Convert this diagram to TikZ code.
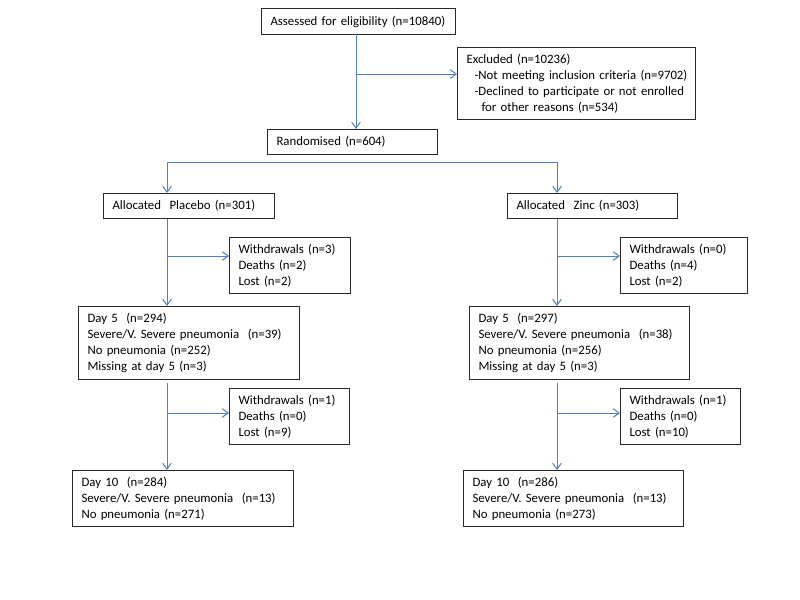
\documentclass[tikz,border=0pt]{standalone}
\usepackage{fontspec}
\setmainfont{Carlito}
\usetikzlibrary{arrows.meta}
\definecolor{conn}{RGB}{79,129,189}
\definecolor{boxline}{RGB}{40,40,40}
\begin{document}
\begin{tikzpicture}[x=0.75pt,y=-0.75pt,
  box/.style={draw=boxline,line width=0.75pt,anchor=north west,align=left,inner xsep=6.75pt,inner ysep=0pt,font=\fontsize{9.6pt}{12pt}\selectfont},
  flow/.style={draw=conn,line width=0.75pt,-{Straight Barb[length=4.5pt,width=6.5pt]}},
  plain/.style={draw=conn,line width=0.75pt}]
\useasboundingbox[fill=white] (0,0) rectangle (800,600);
\node[box,text width=132pt,minimum height=19.5pt] (assess) at (261,8) {\mbox{Assessed for eligibility (n=10840)}};
\node[box,text width=165pt,minimum height=54pt] (excl) at (457,47) {\mbox{Excluded (n=10236)}\\
\mbox{\hspace*{6pt}-Not meeting inclusion criteria (n=9702)}\\
\mbox{\hspace*{6pt}-Declined to participate or not enrolled}\\
\mbox{\hspace*{11.25pt}for other reasons (n=534)}};
\node[box,text width=114pt,minimum height=18.75pt] (rand) at (267,129) {Randomised (n=604)};
\node[box,text width=114.75pt,minimum height=18.75pt] (allocP) at (103,193) {Allocated\ \ Placebo (n=301)};
\node[box,text width=77.25pt,minimum height=42pt] (wdP1) at (229,237) {Withdrawals (n=3)\\Deaths (n=2)\\Lost (n=2)};
\node[box,text width=152.25pt,minimum height=54.75pt] (d5P) at (78,306) {Day 5\ \ (n=294)\\Severe/V. Severe pneumonia\ \ (n=39)\\No pneumonia (n=252)\\Missing at day 5 (n=3)};
\node[box,text width=76.5pt,minimum height=42pt] (wdP2) at (229,388) {Withdrawals (n=1)\\Deaths (n=0)\\Lost (n=9)};
\node[box,text width=152.25pt,minimum height=42pt] (d10P) at (72,470) {Day 10\ \ (n=284)\\Severe/V. Severe pneumonia\ \ (n=13)\\No pneumonia (n=271)};
\node[box,text width=114pt,minimum height=18.75pt] (allocZ) at (507,193) {Allocated\ \ Zinc (n=303)};
\node[box,text width=81.75pt,minimum height=42pt] (wdZ1) at (620,237) {Withdrawals (n=0)\\Deaths (n=4)\\Lost (n=2)};
\node[box,text width=151.5pt,minimum height=54.75pt] (d5Z) at (469,306) {Day 5\ \ (n=297)\\Severe/V. Severe pneumonia\ \ (n=38)\\No pneumonia (n=256)\\Missing at day 5 (n=3)};
\node[box,text width=76.5pt,minimum height=42pt] (wdZ2) at (620,388) {Withdrawals (n=1)\\Deaths (n=0)\\Lost (n=10)};
\node[box,text width=151.5pt,minimum height=42pt] (d10Z) at (463,470) {Day 10\ \ (n=286)\\Severe/V. Severe pneumonia\ \ (n=13)\\No pneumonia (n=273)};
% connectors
\coordinate (a0) at (356,34);
\coordinate (a1) at (356,74);
\draw[flow] (a0) -- (a0 |- rand.north);
\draw[flow] (a1) -- (a1 -| excl.west);
\coordinate (sP) at (167,162);
\coordinate (sZ) at (557,162);
\draw[plain] (sP) -- (sZ);
\draw[flow] (sP) -- (sP |- allocP.north);
\draw[flow] (sZ) -- (sZ |- allocZ.north);
% placebo arm
\coordinate (p1) at (167,256);
\coordinate (p2) at (167,413);
\draw[flow] (sP |- allocP.south) -- (sP |- d5P.north);
\draw[flow] (p1) -- (p1 -| wdP1.west);
\draw[flow] (sP |- d5P.south) ++(0,3) -- (sP |- d10P.north);
\draw[flow] (p2) -- (p2 -| wdP2.west);
% zinc arm
\coordinate (z1) at (557,256);
\coordinate (z2) at (557,413);
\draw[flow] (sZ |- allocZ.south) -- (sZ |- d5Z.north);
\draw[flow] (z1) -- (z1 -| wdZ1.west);
\draw[flow] (sZ |- d5Z.south) ++(0,3) -- (sZ |- d10Z.north);
\draw[flow] (z2) -- (z2 -| wdZ2.west);
\end{tikzpicture}
\end{document}
